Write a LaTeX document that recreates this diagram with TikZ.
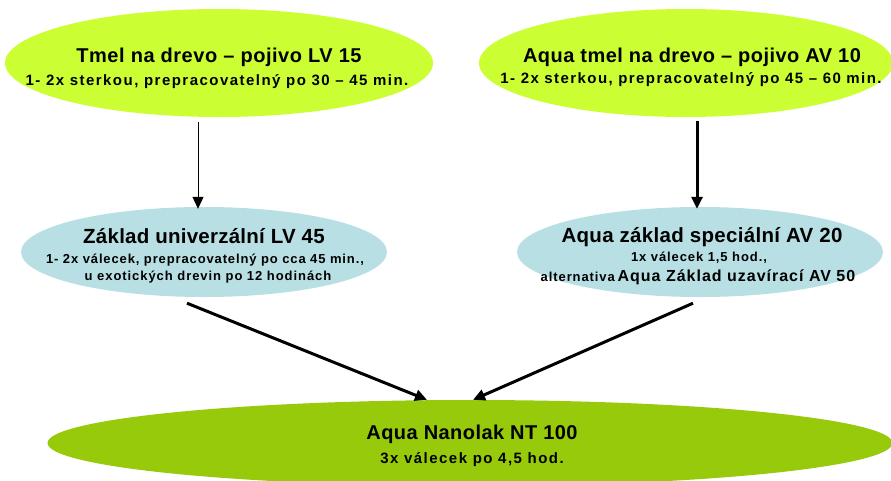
\documentclass[tikz,border=0pt]{standalone}
\usepackage{fontspec}
\setmainfont{Liberation Sans}
\usetikzlibrary{shapes.geometric,arrows.meta,calc}
\definecolor{lime}{HTML}{CCFF33}
\definecolor{pale}{HTML}{B8DFE3}
\definecolor{leaf}{HTML}{97CA0A}
\newcommand\fsz[3]{\bfseries\fontsize{#1}{#2}\selectfont\addfontfeature{LetterSpace=#3}}
\tikzset{
  blob/.style={ellipse,inner sep=0pt,draw=none},
  txt/.style={inner sep=0pt,anchor=base,text=black},
  conn/.style={draw=black,-{Triangle[length=12pt,width=11pt]}},
}
\begin{document}
\begin{tikzpicture}[x=1pt,y=-1pt]
\useasboundingbox (0,0) rectangle (891,480);
% ellipses
\node[blob,fill=lime,minimum width=428pt,minimum height=108pt] (tl) at (219,63) {};
\node[blob,fill=lime,minimum width=414pt,minimum height=108pt] (tr) at (686,63) {};
\node[blob,fill=pale,minimum width=366pt,minimum height=90pt] (ml) at (204,252) {};
\node[blob,fill=pale,minimum width=366pt,minimum height=90pt] (mr) at (700,252) {};
\node[blob,fill=leaf,minimum width=845pt,minimum height=86pt] (bt) at (470,443) {};
% texts
\node[txt,font=\fsz{20}{24}{2.6}] (tl1) at (219,62) {Tmel na drevo – pojivo LV 15};
\node[txt,font=\fsz{15}{18}{9.8}] (tl2) at (217,85) {1- 2x sterkou, prepracovatelný po 30 – 45 min.};
\node[txt,font=\fsz{20}{24}{2.3}] (tr1) at (692,62) {Aqua tmel na drevo – pojivo AV 10};
\node[txt,font=\fsz{15}{18}{9.5}] (tr2) at (691,83) {1- 2x sterkou, prepracovatelný po 45 – 60 min.};
\node[txt,font=\fsz{20.5}{24}{1.2}] (ml1) at (204,243) {Základ univerzální LV 45};
\node[txt,font=\fsz{13}{16}{6.7}] (ml2) at (205,263) {1- 2x válecek, prepracovatelný po cca 45 min.,};
\node[txt,font=\fsz{13}{16}{7.2}] (ml3) at (208,280) {u exotických drevin po 12 hodinách};
\node[txt,font=\fsz{20.5}{24}{1.5}] (mr1) at (702,242) {Aqua základ speciální AV 20};
\node[txt,font=\fsz{13}{16}{6.9}] (mr2) at (699,261) {1x válecek 1,5 hod.,};
\node[txt] (mr3) at (698,281) {{\fsz{13}{15}{7}alternativa} {\fsz{16}{19}{6.2}Aqua Základ uzavírací AV 50}};
\node[txt,font=\fsz{20}{24}{2.2}] (bt1) at (472,439) {Aqua Nanolak NT 100};
\node[txt,font=\fsz{15}{18}{9.8}] (bt2) at (472,463) {3x válecek po 4,5 hod.};
% connectors
\draw[conn,line width=1pt] ($(tl.south)+(-21,5)$) -- ($(ml.north)+(-6,2)$);
\draw[conn,line width=3pt] ($(tr.south)+(11,4)$) -- ($(mr.north)+(-3,2)$);
\draw[conn,line width=3pt] ($(ml.south)+(-17,6)$) -- ($(bt.north)+(-43,0)$);
\draw[conn,line width=3pt] ($(mr.south)+(-7,6)$) -- ($(bt.north)+(3,0)$);
\end{tikzpicture}
\end{document}
